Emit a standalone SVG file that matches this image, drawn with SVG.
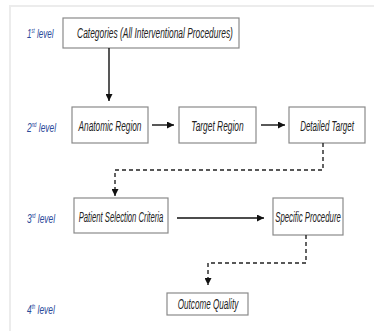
<svg xmlns="http://www.w3.org/2000/svg" width="374" height="331" viewBox="0 0 374 331">
<defs>
<marker id="ah" viewBox="0 0 10 10" refX="10" refY="5" markerWidth="7" markerHeight="7" orient="auto" markerUnits="userSpaceOnUse">
<path d="M0,0 L10,5 L0,10 Z" fill="#111"/>
</marker>
</defs>
<style>
.box{fill:#fff;stroke:#8a8a8a;stroke-width:1.2}
.t{font-family:"Liberation Sans",sans-serif;font-style:italic;font-size:14px;fill:#222;text-anchor:middle}
.lv{font-family:"Liberation Sans",sans-serif;font-style:italic;font-size:13.5px;fill:#2b4a9a}
.sup{font-size:7px}
.solid{stroke:#111;stroke-width:1.4;fill:none}
.dash{stroke:#222;stroke-width:1.4;fill:none;stroke-dasharray:4 3}
.frame{stroke:#ececec;stroke-width:2;fill:none}
</style>
<rect width="374" height="331" fill="#fff"/>
<path class="frame" d="M374,6 H10 V331"/>
<g id="levels">
<text class="lv" transform="translate(27,38) scale(0.6,1)">1<tspan class="sup" dy="-5">st</tspan><tspan dy="5"> level</tspan></text>
<text class="lv" transform="translate(27,132) scale(0.62,1)">2<tspan class="sup" dy="-5">nd</tspan><tspan dy="5"> level</tspan></text>
<text class="lv" transform="translate(27,223) scale(0.62,1)">3<tspan class="sup" dy="-5">rd</tspan><tspan dy="5"> level</tspan></text>
<text class="lv" transform="translate(27,314) scale(0.62,1)">4<tspan class="sup" dy="-5">th</tspan><tspan dy="5"> level</tspan></text>
</g>
<g id="categories">
<rect class="box" x="63" y="18" width="176" height="30"/>
<text class="t" transform="translate(155,38) scale(0.6,1)">Categories (All Interventional Procedures)</text>
</g>
<g id="anatomic">
<rect class="box" x="72" y="107" width="76" height="36"/>
<text class="t" transform="translate(110,131) scale(0.59,1)">Anatomic Region</text>
</g>
<g id="target">
<rect class="box" x="179" y="107" width="77" height="36"/>
<text class="t" transform="translate(217.5,131) scale(0.6,1)">Target Region</text>
</g>
<g id="detailed">
<rect class="box" x="289" y="107" width="76" height="36"/>
<text class="t" transform="translate(327,131) scale(0.57,1)">Detailed Target</text>
</g>
<g id="patient">
<rect class="box" x="74" y="198" width="94" height="35"/>
<text class="t" transform="translate(121,222) scale(0.55,1)">Patient Selection Criteria</text>
</g>
<g id="specific">
<rect class="box" x="273" y="198" width="70" height="37"/>
<text class="t" transform="translate(308,222) scale(0.56,1)">Specific Procedure</text>
</g>
<g id="outcome">
<rect class="box" x="167" y="293" width="81" height="22"/>
<text class="t" transform="translate(208,309) scale(0.58,1)">Outcome Quality</text>
</g>
<g id="connectors">
<line class="solid" x1="109" y1="48" x2="109" y2="101" marker-end="url(#ah)"/>
<line class="solid" x1="152" y1="125" x2="174" y2="125" marker-end="url(#ah)"/>
<line class="solid" x1="261" y1="125" x2="285" y2="125" marker-end="url(#ah)"/>
<polyline class="dash" points="323,143 323,170 115,170 115,196" marker-end="url(#ah)"/>
<line class="solid" x1="177" y1="218" x2="264" y2="218" marker-end="url(#ah)"/>
<polyline class="dash" points="306,235 306,263 208,263 208,285" marker-end="url(#ah)"/>
</g>
</svg>
